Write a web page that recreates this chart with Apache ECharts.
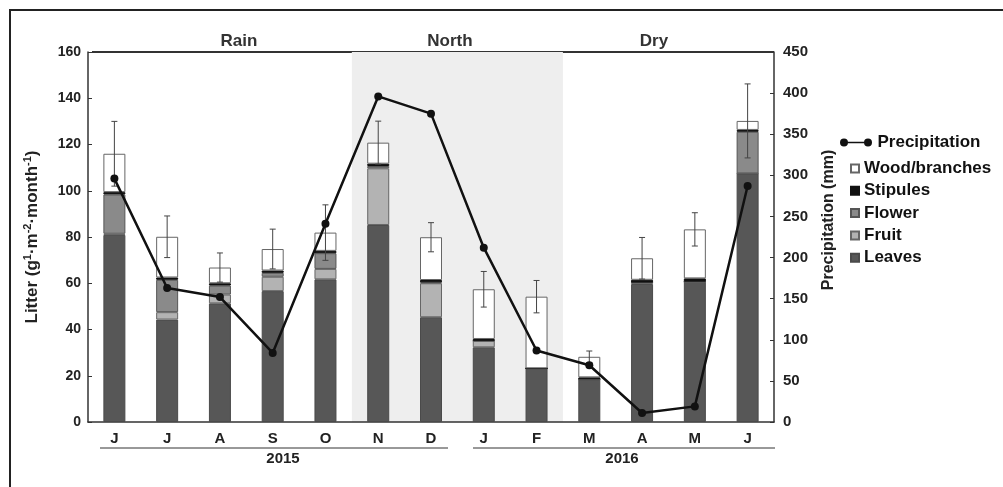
<!DOCTYPE html>
<html>
<head>
<meta charset="utf-8">
<script src="https://cdn.jsdelivr.net/npm/echarts@6/dist/echarts.min.js"></script>
<style>html,body{margin:0;padding:0;background:#fff;}#c{width:1003px;height:487px;}</style>
</head>
<body>
<div id="c"></div>
<script>
const months = ['J','J','A','S','O','N','D','J','F','M','A','M','J'];
const leaves   = [80.9, 44.3, 51.3, 56.6, 61.7, 85.2, 45.3, 32.3, 23.2, 18.5, 59.7, 60.7, 107.5];
const fruit    = [0.5, 3.2, 3.8, 6.2, 4.5, 24.5, 14.7, 2.8, 0, 0, 0.6, 0, 0];
const flower   = [17, 14, 3.9, 1.7, 6.8, 1.0, 0.4, 0, 0, 0, 0, 0, 18];
const stipules = [1, 1, 1, 1, 1, 1, 1, 0.8, 0, 0.8, 1.2, 1.4, 0.8];
const wood     = [16.6, 17.6, 6.8, 9.3, 7.9, 9.1, 18.5, 21.5, 31, 8.9, 9.3, 21.2, 3.9];
const errors   = [14, 9, 6.3, 8.6, 12, 9.3, 6.3, 7.7, 7, 2.5, 9, 7.2, 16];
const precip   = [296, 163, 152, 84, 241, 396, 375, 212, 87, 69, 11, 19, 287];
const leftTicks = [0, 160, 20];
const rightTicks = [0, 450, 50];
const seasons = ['Rain', 'North', 'Dry'];
const years = ['2015', '2016'];
const northSpan = [5, 8];

const FF = '"Liberation Sans", Arial, sans-serif';
const totals = leaves.map((v, i) => v + fruit[i] + flower[i] + stipules[i] + wood[i]);
const errData = totals.map((t, i) => [i, t, errors[i]]);

const chart = echarts.init(document.getElementById('c'));
const barBase = { type: 'bar', stack: 'litter', barWidth: 22, yAxisIndex: 0, z: 2 };
const option = {
  animation: false,
  backgroundColor: '#fff',
  textStyle: { fontFamily: FF },
  grid: { left: 88, right: 229, top: 52, bottom: 65 },
  legend: [
    {
      data: [{ name: 'Precipitation', icon: 'path://M0,4A4,4 0 1,1 8,4A4,4 0 1,1 0,4ZM7,3.2L25,3.2L25,4.8L7,4.8ZM24,4A4,4 0 1,1 32,4A4,4 0 1,1 24,4Z' }],
      left: 840, top: 134, padding: 0, itemWidth: 33, itemHeight: 8, orient: 'vertical',
      textStyle: { fontFamily: FF, fontSize: 17, fontWeight: 'bold', color: '#111' },
      selectedMode: false
    },
    {
      data: ['Wood/branches', 'Stipules', 'Flower', 'Fruit', 'Leaves'],
      left: 850, top: 159, padding: 0, itemWidth: 8, itemHeight: 8, itemGap: 3.3, orient: 'vertical',
      icon: 'rect',
      textStyle: { fontFamily: FF, fontSize: 17, fontWeight: 'bold', color: '#111', lineHeight: 19 },
      selectedMode: false
    }
  ],
  xAxis: {
    type: 'category', data: months,
    axisLine: { lineStyle: { color: '#333', width: 1.5 } },
    axisTick: { inside: true, length: 5, lineStyle: { color: '#333' } },
    axisLabel: { fontFamily: FF, fontSize: 15, fontWeight: 'bold', color: '#222', margin: 9 }
  },
  yAxis: [
    {
      type: 'value', min: leftTicks[0], max: leftTicks[1], interval: leftTicks[2],
      name: '{a|Litter (g}{s|1}{a|·m}{s|-2}{a|·month}{s|-1}{a|)}',
      nameLocation: 'middle', nameGap: 46,
      nameTextStyle: {
        rich: {
          a: { fontFamily: FF, fontSize: 17, fontWeight: 'bold', color: '#222', lineHeight: 20 },
          s: { fontFamily: FF, fontSize: 11, fontWeight: 'bold', color: '#222', lineHeight: 11, verticalAlign: 'top' }
        }
      },
      splitLine: { show: false },
      axisLine: { show: true, lineStyle: { color: '#333', width: 1.5 } },
      axisTick: { show: true, inside: true, length: 4, lineStyle: { color: '#333' } },
      axisLabel: { fontFamily: FF, fontSize: 14, fontWeight: 'bold', color: '#222', margin: 7 }
    },
    {
      type: 'value', min: rightTicks[0], max: rightTicks[1], interval: rightTicks[2], position: 'right',
      splitLine: { show: false },
      axisLine: { show: true, lineStyle: { color: '#333', width: 1.5 } },
      axisTick: { show: true, inside: true, length: 4, lineStyle: { color: '#333' } },
      axisLabel: { fontFamily: FF, fontSize: 15, fontWeight: 'bold', color: '#222', margin: 9 }
    }
  ],
  series: [
    {
      type: 'custom', name: 'northShade', z: 0, silent: true, yAxisIndex: 0,
      data: [northSpan],
      renderItem: function (params, api) {
        const s = api.coord([api.value(0), 0]);
        const e = api.coord([api.value(1), 0]);
        const bw = api.size([1, 0])[0];
        return {
          type: 'rect',
          shape: { x: s[0] - bw / 2, y: params.coordSys.y, width: e[0] - s[0] + bw, height: params.coordSys.height },
          style: { fill: '#eeeeee' }
        };
      }
    },
    Object.assign({}, barBase, { name: 'Leaves', data: leaves, itemStyle: { color: '#575757', borderColor: '#4a4a4a', borderWidth: 1 } }),
    Object.assign({}, barBase, { name: 'Fruit', data: fruit, itemStyle: { color: '#b3b3b3', borderColor: '#666', borderWidth: 1 } }),
    Object.assign({}, barBase, { name: 'Flower', data: flower, itemStyle: { color: '#8a8a8a', borderColor: '#555', borderWidth: 1 } }),
    Object.assign({}, barBase, { name: 'Stipules', data: stipules, itemStyle: { color: '#111', borderColor: '#111', borderWidth: 1 } }),
    Object.assign({}, barBase, { name: 'Wood/branches', data: wood, itemStyle: { color: '#ffffff', borderColor: '#666', borderWidth: 1 } }),
    {
      type: 'custom', name: 'err', z: 3, silent: true, yAxisIndex: 0,
      data: errData,
      renderItem: function (params, api) {
        const x = api.value(0), t = api.value(1), e = api.value(2);
        const hi = api.coord([x, t + e]);
        const lo = api.coord([x, t - e]);
        const w = 3;
        const st = { stroke: '#444', lineWidth: 1 };
        return {
          type: 'group',
          children: [
            { type: 'line', shape: { x1: hi[0], y1: hi[1], x2: lo[0], y2: lo[1] }, style: st },
            { type: 'line', shape: { x1: hi[0] - w, y1: hi[1], x2: hi[0] + w, y2: hi[1] }, style: st },
            { type: 'line', shape: { x1: lo[0] - w, y1: lo[1], x2: lo[0] + w, y2: lo[1] }, style: st }
          ]
        };
      }
    },
    {
      type: 'line', name: 'Precipitation', yAxisIndex: 1, data: precip, z: 4,
      symbol: 'circle', symbolSize: 8,
      lineStyle: { color: '#111', width: 2.5 },
      itemStyle: { color: '#111' }
    }
  ],
  graphic: [
    { type: 'rect', shape: { x: 10, y: 10, width: 1010, height: 500 }, style: { fill: 'none', stroke: '#222', lineWidth: 2 }, silent: true },
    { type: 'line', shape: { x1: 92, y1: 52, x2: 774, y2: 52 }, style: { stroke: '#333', lineWidth: 2 }, silent: true },
    { type: 'text', x: 239, y: 41, style: { text: seasons[0], font: 'bold 17px ' + FF, fill: '#333', textAlign: 'center', textVerticalAlign: 'middle' } },
    { type: 'text', x: 450, y: 41, style: { text: seasons[1], font: 'bold 17px ' + FF, fill: '#333', textAlign: 'center', textVerticalAlign: 'middle' } },
    { type: 'text', x: 654, y: 41, style: { text: seasons[2], font: 'bold 17px ' + FF, fill: '#333', textAlign: 'center', textVerticalAlign: 'middle' } },
    { type: 'line', shape: { x1: 100, y1: 448, x2: 448, y2: 448 }, style: { stroke: '#333', lineWidth: 1 }, silent: true },
    { type: 'line', shape: { x1: 473, y1: 448, x2: 775, y2: 448 }, style: { stroke: '#333', lineWidth: 1 }, silent: true },
    { type: 'text', x: 283, y: 459, style: { text: years[0], font: 'bold 15px ' + FF, fill: '#222', textAlign: 'center', textVerticalAlign: 'middle' } },
    { type: 'text', x: 622, y: 459, style: { text: years[1], font: 'bold 15px ' + FF, fill: '#222', textAlign: 'center', textVerticalAlign: 'middle' } },
    { type: 'text', x: 829, y: 220, rotation: Math.PI / 2, style: { text: 'Precipitation (mm)', font: 'bold 16px ' + FF, fill: '#222', textAlign: 'center', textVerticalAlign: 'middle' } }
  ]
};
chart.setOption(option);
</script>
</body>
</html>
